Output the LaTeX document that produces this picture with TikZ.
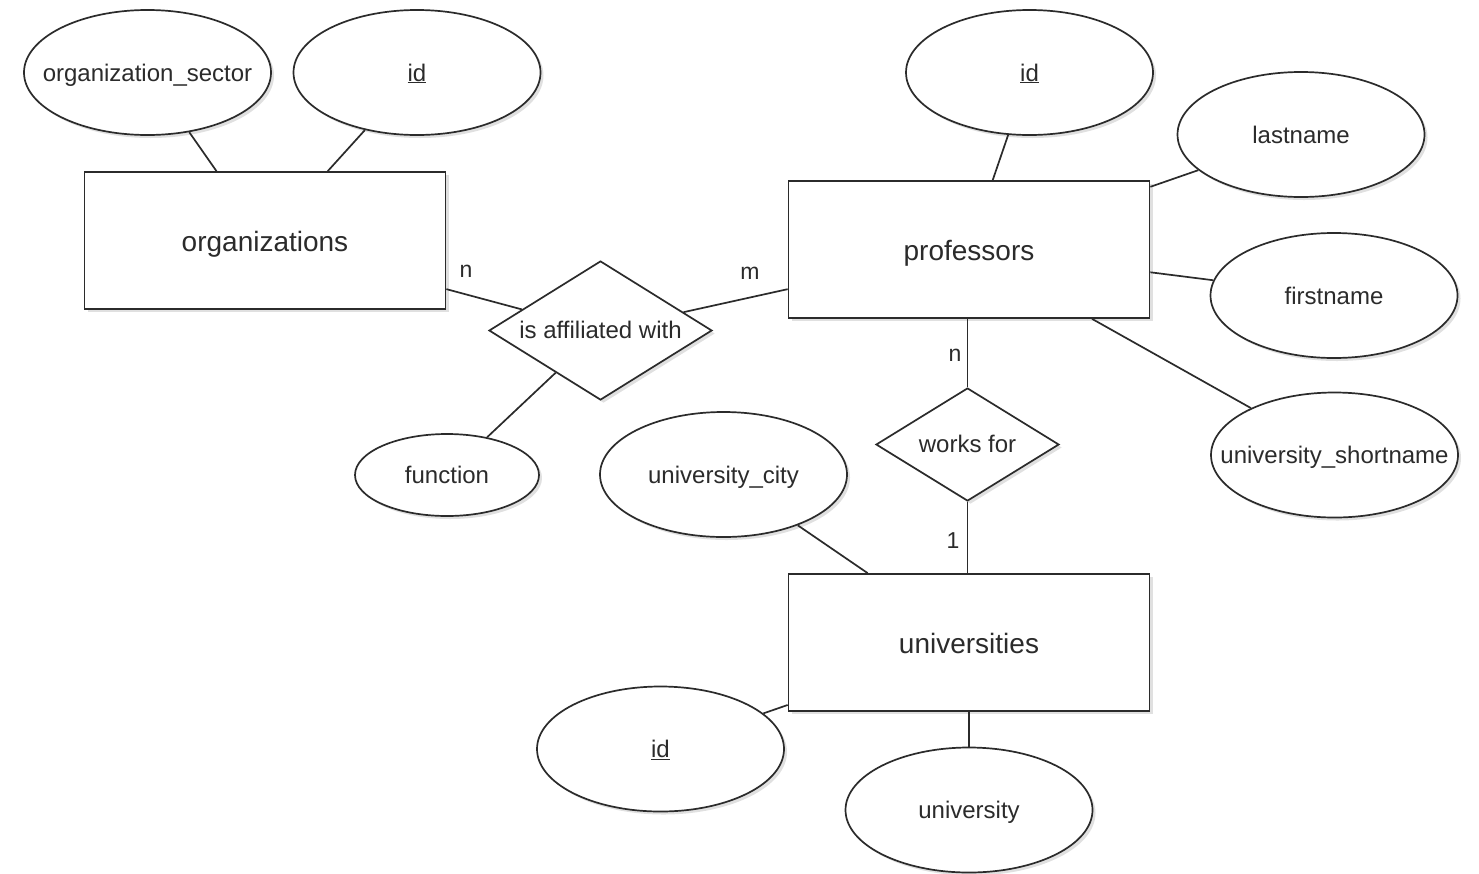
\documentclass[tikz,border=0pt]{standalone}
\usepackage{fontspec}
\setmainfont{Liberation Sans}
\usetikzlibrary{shapes.geometric,shadows}
\definecolor{ink}{HTML}{2B2B2B}
\tikzset{
  base/.style={draw=ink, fill=white, line width=1.7pt, text=ink, inner sep=0pt,
    drop shadow={shadow xshift=3pt, shadow yshift=-3pt, opacity=0.12, fill=black}},
  attr/.style={base, ellipse, minimum width=247pt, minimum height=125pt,
    font=\fontsize{24}{28}\selectfont, text height=20pt, text depth=3pt},
  entity/.style={base, rectangle, minimum width=361pt, minimum height=137pt,
    font=\fontsize{28}{32}\selectfont, text height=24pt, text depth=2.5pt},
  rel/.style={base, diamond, aspect=1.6, font=\fontsize{24}{28}\selectfont,
    text height=19pt, text depth=3pt},
  card/.style={text=ink, inner sep=0pt, font=\fontsize{23}{26}\selectfont},
  conn/.style={draw=ink, line width=1.7pt}
}
\newcommand{\zb}[1]{\makebox[0pt][c]{#1}}
\begin{document}
\begin{tikzpicture}[x=1pt,y=-1pt]
\useasboundingbox (0,0) rectangle (1479,873);
\fill[white] (0,0) rectangle (1479,873);
% entities
\node[entity] (org) at (265,240.5) {organizations};
\node[entity] (prof) at (969,249.5) {professors};
\node[entity] (uni) at (969,642.5) {universities};
% relationships
\node[rel, minimum width=223pt, minimum height=139pt] (aff) at (600.5,330.5) {is affiliated with};
\node[rel, minimum width=183pt, minimum height=113pt] (works) at (967.5,444.5) {works for};
% attributes
\node[attr] (osec) at (147.5,72.5) {\zb{organization\_sector}};
\node[attr] (oid) at (417,72.5) {\zb{\underline{id}}};
\node[attr] (pid) at (1029.5,72.5) {\zb{\underline{id}}};
\node[attr] (plast) at (1301,134.5) {\zb{lastname}};
\node[attr] (pfirst) at (1334,295.5) {\zb{firstname}};
\node[attr] (pshort) at (1334.5,455) {\zb{university\_shortname}};
\node[attr, minimum width=184pt, minimum height=82pt] (func) at (447,475) {\zb{function}};
\node[attr] (ucity) at (723.5,474.5) {\zb{university\_city}};
\node[attr] (uid) at (660.5,749) {\zb{\underline{id}}};
\node[attr] (uname) at (969,810) {\zb{university}};
% connectors
\draw[conn] (osec) -- (org);
\draw[conn] (oid) -- (org);
\draw[conn] (org) -- (aff);
\draw[conn] (aff) -- (prof);
\draw[conn] (aff) -- (func);
\draw[conn] (pid) -- (prof);
\draw[conn] (plast) -- (prof);
\draw[conn] (pfirst) -- (prof);
\draw[conn] (pshort) -- (prof);
\draw[conn] (prof.south -| works.north) -- (works.north);
\draw[conn] (works.south) -- (works.south |- uni.north);
\draw[conn] (ucity) -- (uni);
\draw[conn] (uid) -- (uni);
\draw[conn] (uni) -- (uname);
% cardinalities
\node[card] (c1) at (466,271) {n};
\node[card] (c2) at (750,273) {m};
\node[card] (c3) at (955,355) {n};
\node[card] (c4) at (953,541) {1};
\end{tikzpicture}
\end{document}
